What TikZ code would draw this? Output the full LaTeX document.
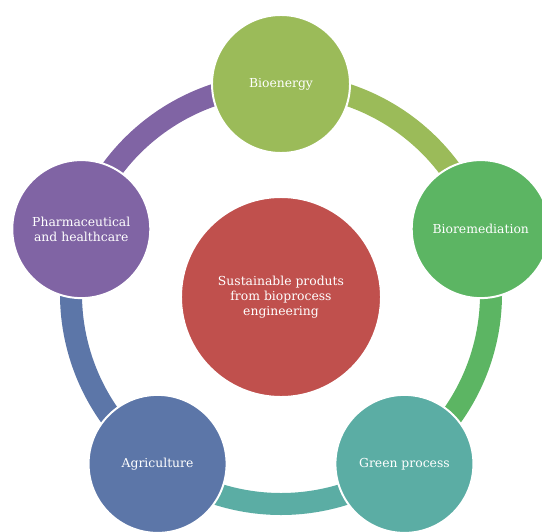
\documentclass[tikz,border=0pt]{standalone}
\usepackage{fontspec}
\setmainfont{DejaVu Serif}
\usetikzlibrary{positioning}
\definecolor{bioenergyc}{RGB}{155,187,89}
\definecolor{bioremedc}{RGB}{92,181,99}
\definecolor{greenprocc}{RGB}{91,173,164}
\definecolor{agric}{RGB}{92,118,168}
\definecolor{pharmac}{RGB}{128,100,164}
\definecolor{centrec}{RGB}{192,80,77}
\def\ringradius{5.25cm}
\def\pagebox{(-7.025,-5.925) rectangle (6.525,7.35)}
\tikzset{
  petal/.style={circle, draw=white, line width=1.4pt, minimum size=3.45cm, inner sep=0pt,
    text=white, align=center, font=\fontsize{8.8}{10.6}\selectfont},
  ring/.style={line width=0.55cm}
}

\begin{document}
\begin{tikzpicture}
  \useasboundingbox \pagebox;
  \clip \pagebox;
  % places on the ring
  \coordinate (bioen) at (90:\ringradius);
  \coordinate (biorem) at (18:\ringradius);
  \coordinate (greenp) at (-54:\ringradius);
  \coordinate (agri) at (-126:\ringradius);
  \coordinate (pharma) at (162:\ringradius);
  % ring of arcs
  \draw[ring, bioenergyc] (bioen) arc[start angle=90, end angle=18, radius=\ringradius];
  \draw[ring, bioremedc] (biorem) arc[start angle=18, end angle=-54, radius=\ringradius];
  \draw[ring, greenprocc] (greenp) arc[start angle=-54, end angle=-126, radius=\ringradius];
  \draw[ring, agric] (agri) arc[start angle=-126, end angle=-198, radius=\ringradius];
  \draw[ring, pharmac] (pharma) arc[start angle=162, end angle=90, radius=\ringradius];
  % circles
  \node[petal, fill=centrec, minimum size=5cm] (centre) at (0,-0.075) {Sustainable produts\\from bioprocess\\engineering};
  \node[petal, fill=bioenergyc] (bioennode) at (bioen) {Bioenergy};
  \node[petal, fill=bioremedc] (bioremnode) at (biorem) {Bioremediation};
  \node[petal, fill=greenprocc] (greenpnode) at (greenp) {Green process};
  \node[petal, fill=agric] (agrinode) at (agri) {Agriculture};
  \node[petal, fill=pharmac] (pharmanode) at (pharma) {Pharmaceutical\\and healthcare};
\end{tikzpicture}
\end{document}
